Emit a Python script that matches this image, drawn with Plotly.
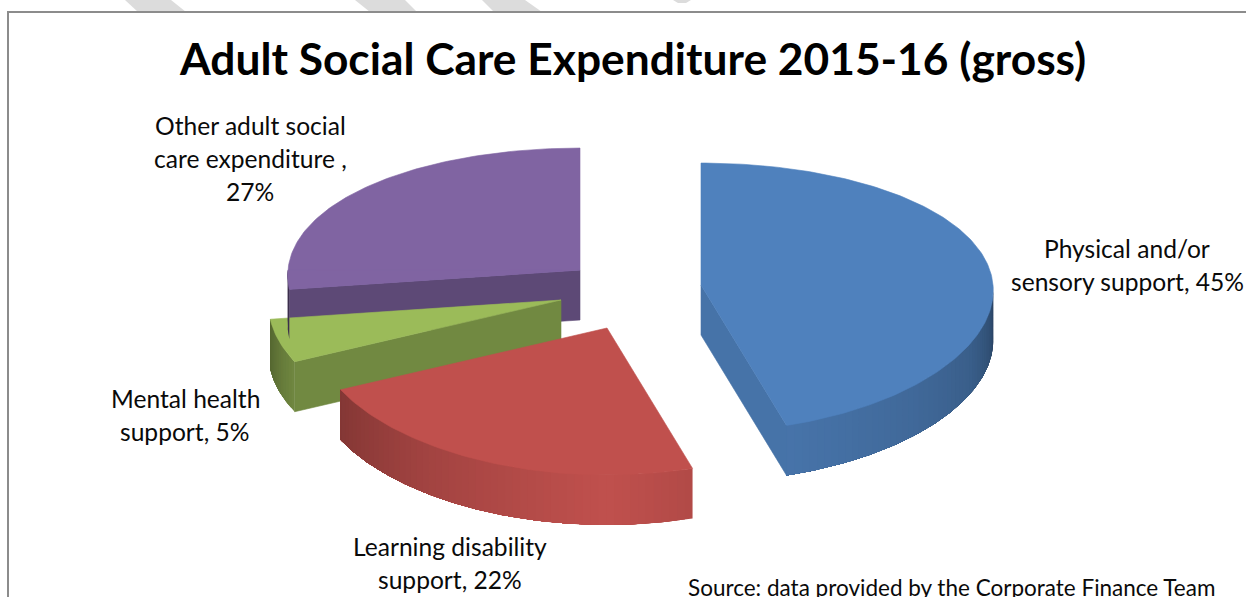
import math
import plotly.graph_objects as go

# Expenditure shares and their labels
categories = ["Physical and/or sensory support", "Learning disability support",
              "Mental health support", "Other adult social care expenditure"]
shares = [45, 22, 5, 27]
label_lines = [
    ["Physical and/or", "sensory support, 45%"],
    ["Learning disability", "support, 22%"],
    ["Mental health", "support, 5%"],
    ["Other adult social", "care expenditure ,", "27%"],
]
title_text = "Adult Social Care Expenditure 2015-16 (gross)"
source_text = "Source: data provided by the Corporate Finance Team"

# Slice styling and placement of each exploded wedge
top_colors = [(79, 129, 189), (192, 80, 77), (155, 187, 89), (128, 100, 162)]
wedge_centres = [(701, 285), (607, 328), (561, 300), (580, 270)]
wall_shade = [0.89, 0.9, 0.73, 0.73]
rim_shades = [
    [(90, 0.47), (100, 0.6), (115, 0.73), (135, 0.81), (165, 0.9)],
    [(163, 0.92), (180, 1.0), (215, 0.85), (245, 0.68)],
    [(243, 0.73), (262, 0.54)],
    [(261, 0.48), (270, 0.48)],
]
label_centres = [(1127, 248), (450, 546), (185, 398), (250, 125)]
label_step = 33

# Perspective pie projection
RADIUS_X = 292
RADIUS_Y = 133.3
TILT_X = 0.04
TILT_Y = 0.093
DEPTH = 50
FONT = "Lato"
TEXT_COLOR = "#0A0A0A"


def project(centre, theta):
    """Screen position of a rim point; theta is clockwise from twelve o'clock."""
    t = math.radians(theta)
    x, y = math.sin(t), math.cos(t)
    return (centre[0] + RADIUS_X * x / (1 + TILT_X * y),
            centre[1] - RADIUS_Y * y / (1 + TILT_Y * y))


def scaled(rgb, f):
    return "rgb({},{},{})".format(*[round(c * f) for c in rgb])


def shade_at(stops, theta):
    if theta <= stops[0][0]:
        return stops[0][1]
    for (a0, f0), (a1, f1) in zip(stops, stops[1:]):
        if theta <= a1:
            return f0 + (f1 - f0) * (theta - a0) / (a1 - a0)
    return stops[-1][1]


def polygon(fig, pts, color, edge=0.6):
    fig.add_trace(go.Scatter(
        x=[p[0] for p in pts] + [pts[0][0]],
        y=[p[1] for p in pts] + [pts[0][1]],
        mode="lines", fill="toself", fillcolor=color,
        line=dict(color=color, width=edge),
        hoverinfo="skip", showlegend=False,
    ))


def arc(centre, start, end, step=1.0):
    n = max(2, int(abs(end - start) / step) + 1)
    return [project(centre, start + (end - start) * i / (n - 1)) for i in range(n)]


def draw_top(fig, i, start, end):
    polygon(fig, [wedge_centres[i]] + arc(wedge_centres[i], start, end), scaled(top_colors[i], 1))


def draw_rim(fig, i, start, end):
    # Each strip is painted over the tail of a longer band, so neighbours leave no seam
    lo, hi = max(start, 90), min(end, 270)
    theta = lo
    while theta < hi:
        nxt = min(theta + 1.5, hi)
        band = arc(wedge_centres[i], theta, hi, 0.5)
        pts = band + [(p[0], p[1] + DEPTH) for p in reversed(band)]
        polygon(fig, pts, scaled(top_colors[i], shade_at(rim_shades[i], (theta + nxt) / 2)), edge=0)
        theta = nxt


def draw_wall(fig, i, theta):
    c = wedge_centres[i]
    p = project(c, theta)
    pts = [c, p, (p[0], p[1] + DEPTH), (c[0], c[1] + DEPTH)]
    polygon(fig, pts, scaled(top_colors[i], wall_shade[i]))


# Slice boundaries run clockwise from twelve o'clock
total = sum(shares)
edges = [0.0]
for s in shares:
    edges.append(edges[-1] + 360.0 * s / total)

fig = go.Figure()

# Back to front: purple wall and top, green wedge, purple rim sliver, red, blue
draw_wall(fig, 3, edges[3])
draw_top(fig, 3, edges[3], edges[4])
draw_wall(fig, 2, edges[2])
draw_rim(fig, 2, edges[2], edges[3])
draw_top(fig, 2, edges[2], edges[3])
draw_rim(fig, 3, edges[3], edges[4])
draw_top(fig, 3, edges[3], min(edges[3] + 8.2, edges[4]))
draw_rim(fig, 1, edges[1], edges[2])
draw_top(fig, 1, edges[1], edges[2])
draw_wall(fig, 0, edges[1])
draw_rim(fig, 0, edges[0], edges[1])
draw_top(fig, 0, edges[0], edges[1])

annotations = [dict(
    x=632, y=57, xref="x", yref="y", text=f"<b>{title_text}</b>", showarrow=False,
    font=dict(family=FONT, size=44.3, color="#000000"), xanchor="center", yanchor="middle",
)]
for lines, (cx, cy) in zip(label_lines, label_centres):
    for k, line in enumerate(lines):
        annotations.append(dict(
            x=cx, y=cy + k * label_step, xref="x", yref="y", text=line, showarrow=False,
            font=dict(family=FONT, size=24.6, color=TEXT_COLOR),
            xanchor="center", yanchor="middle",
        ))
annotations.append(dict(
    x=686, y=587, xref="x", yref="y", text=source_text, showarrow=False,
    font=dict(family=FONT, size=22.5, color=TEXT_COLOR), xanchor="left", yanchor="middle",
))

# Page furniture: diagonal bands above the chart frame and the frame itself
band_color = "#DCDCDC"
bands = [
    [(125, 0), (171, 0), (186, 12), (138, 12)],
    [(355, 0), (405, 0), (417, 12), (370, 12)],
    [(482, 0), (525, 0), (542, 12), (494, 12)],
    [(673, 0), (691, 0), (686, 3), (678, 3)],
]
shapes = []
for b in bands:
    path = "M " + " L ".join(f"{x},{y}" for x, y in b) + " Z"
    shapes.append(dict(type="path", path=path, xref="x", yref="y",
                       fillcolor=band_color, line=dict(width=0), layer="below"))
shapes.append(dict(type="path", path="M 8,597 L 8,12 L 1246,12", xref="x", yref="y",
                   line=dict(color="#8C8C8C", width=2), layer="below"))

fig.update_layout(
    width=1246, height=597, margin=dict(l=0, r=0, t=0, b=0),
    paper_bgcolor="white", plot_bgcolor="white",
    xaxis=dict(range=[0, 1246], visible=False, fixedrange=True),
    yaxis=dict(range=[597, 0], visible=False, fixedrange=True),
    annotations=annotations, shapes=shapes, hovermode=False, showlegend=False,
)
fig.write_html("out.html", config=dict(displayModeBar=False))
